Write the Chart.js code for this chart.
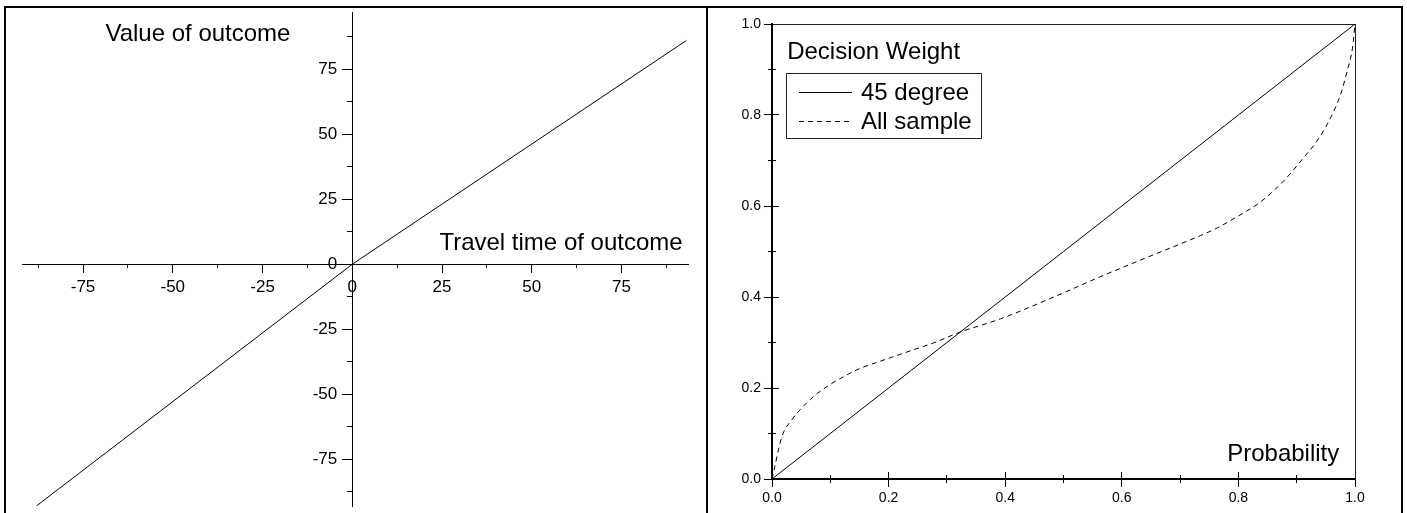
<!DOCTYPE html>
<html lang="en">
  <head>
    <meta charset="UTF-8" />
    <title>Value function and decision weights</title>
    <script src="https://cdn.jsdelivr.net/npm/chart.js"></script>
    <style>
      body {
        margin: 0;
        width: 1407px;
        height: 513px;
        position: relative;
        overflow: hidden;
        background: #fff;
      }
      canvas {
        position: absolute;
        top: 0;
      }
      #value-chart {
        left: 0;
      }
      #weight-chart {
        left: 708px;
      }
      .frame {
        position: absolute;
        top: 6px;
        height: 520px;
        border-top: 2px solid #000;
        border-left: 2px solid #000;
      }
      #frame-left {
        left: 4px;
        width: 700px;
      }
      #frame-right {
        left: 706px;
        width: 693px;
        border-right: 2px solid #000;
      }
    </style>
  </head>
  <body>
    <div class="frame" id="frame-left"></div>
    <div class="frame" id="frame-right"></div>
    <canvas id="value-chart" width="706" height="513"></canvas>
    <canvas id="weight-chart" width="699" height="513"></canvas>
    <script>
      // value function: travel time of outcome -> value of outcome
      const travelTime = [-88, 0, 93];
      const outcomeValue = [-93, 0, 86];
      const valueTicks = [-75, -50, -25, 0, 25, 50, 75];
      const valueMinorTicks = [-87.5, -62.5, -37.5, -12.5, 12.5, 37.5, 62.5, 87.5];

      // probability weighting
      const diagonalP = [0, 1];
      const diagonalW = [0, 1];
      const sampleP = [
        0, 0.005, 0.011, 0.019, 0.034, 0.048, 0.071, 0.094, 0.123, 0.151, 0.186,
        0.22, 0.254, 0.277, 0.323, 0.392, 0.478, 0.564, 0.649, 0.735, 0.764,
        0.793, 0.838, 0.879, 0.913, 0.936, 0.959, 0.976, 0.987, 0.996, 1,
      ];
      const sampleW = [
        0, 0.028, 0.064, 0.1, 0.13, 0.152, 0.181, 0.203, 0.225, 0.243, 0.259,
        0.274, 0.289, 0.299, 0.323, 0.352, 0.397, 0.445, 0.49, 0.535, 0.552,
        0.573, 0.609, 0.657, 0.708, 0.745, 0.796, 0.848, 0.899, 0.95, 1,
      ];
      const probTicks = [0, 0.2, 0.4, 0.6, 0.8, 1];
      const probMinorTicks = [0.1, 0.3, 0.5, 0.7, 0.9];

      const FONT = '"Liberation Sans", Arial, sans-serif';
      Chart.defaults.font.family = FONT;
      Chart.defaults.color = "#000";

      const toPoints = (xs, ys) => xs.map((x, i) => ({ x, y: ys[i] }));

      // labels must not push the plot area around
      const noPadding = (scale) => {
        scale.paddingTop = scale.paddingBottom = 0;
        scale.paddingLeft = scale.paddingRight = 0;
      };

      // edge axes with a fixed thickness, so layout.padding fixes the plot area
      const fixedFit = (size) => (scale) => {
        noPadding(scale);
        if (scale.isHorizontal()) scale.height = size;
        else scale.width = size;
      };

      // one axis line / set of tick marks; several of these share a position
      function axisScale(at, min, max, values, tickLength, extra) {
        return Object.assign(
          {
            type: "linear",
            position: at,
            min,
            max,
            afterBuildTicks: (scale) => {
              scale.ticks = values.map((v) => ({ value: v }));
            },
            afterFit: noPadding,
            border: { display: false },
            grid: {
              drawOnChartArea: false,
              tickLength,
              tickWidth: 1,
              tickColor: "#000",
            },
            ticks: { display: false },
          },
          extra
        );
      }

      // free text placed in data coordinates
      const captions = {
        id: "captions",
        afterDraw(chart, args, opts) {
          const { ctx } = chart;
          const x = chart.scales[opts.xAxis];
          const y = chart.scales[opts.yAxis];
          ctx.save();
          ctx.fillStyle = "#000";
          ctx.textBaseline = "alphabetic";
          ctx.font = `${opts.size}px ${FONT}`;
          for (const c of opts.items) {
            ctx.textAlign = c.align;
            ctx.fillText(c.text, x.getPixelForValue(c.x), y.getPixelForValue(c.y));
          }
          ctx.restore();
        },
      };

      // boxed legend drawn from the dataset styles
      const boxLegend = {
        id: "boxLegend",
        afterDraw(chart, args, opts) {
          const { ctx, chartArea } = chart;
          const left = chartArea.left + opts.left;
          const top = chartArea.top + opts.top;
          ctx.save();
          ctx.strokeStyle = "#222";
          ctx.lineWidth = 1;
          ctx.strokeRect(left + 0.5, top + 0.5, opts.width, opts.height);
          ctx.font = `${opts.size}px ${FONT}`;
          ctx.textBaseline = "middle";
          ctx.textAlign = "left";
          chart.data.datasets.forEach((ds, i) => {
            const rowY = Math.round(top + opts.firstRow + i * opts.rowGap) + 0.5;
            ctx.beginPath();
            ctx.setLineDash(ds.borderDash || []);
            ctx.strokeStyle = ds.borderColor;
            ctx.lineWidth = ds.borderWidth;
            ctx.moveTo(left + opts.lineStart, rowY);
            ctx.lineTo(left + opts.lineEnd, rowY);
            ctx.stroke();
            ctx.setLineDash([]);
            ctx.fillStyle = "#000";
            ctx.fillText(ds.label, left + opts.textStart, rowY + 1);
          });
          ctx.restore();
        },
      };

      new Chart(document.getElementById("value-chart"), {
        type: "scatter",
        data: {
          datasets: [
            {
              label: "Value",
              data: toPoints(travelTime, outcomeValue),
              showLine: true,
              borderColor: "#000",
              borderWidth: 1,
              pointRadius: 0,
            },
          ],
        },
        plugins: [captions],
        options: {
          responsive: false,
          animation: false,
          layout: { padding: { left: 22, right: 18, top: 12, bottom: 7 } },
          plugins: {
            legend: { display: false },
            tooltip: { enabled: false },
            captions: {
              xAxis: "x",
              yAxis: "y",
              size: 24,
              items: [
                { text: "Value of outcome", x: -43, y: 86, align: "center" },
                { text: "Travel time of outcome", x: 92, y: 5.5, align: "right" },
              ],
            },
          },
          scales: {
            x: axisScale({ y: 0 }, -92, 93.5, valueTicks, 8, {
              border: { display: true, color: "#000", width: 1 },
              ticks: { display: true, padding: 5, font: { size: 17 } },
            }),
            xMinor: axisScale({ y: 0 }, -92, 93.5, valueMinorTicks, 4),
            y: axisScale({ x: 0 }, -93, 97, valueTicks, 10, {
              border: { display: true, color: "#000", width: 1 },
            }),
            yMinor: axisScale({ x: 0 }, -93, 97, valueMinorTicks, 5),
            // value labels, set just left of the vertical axis and its ticks
            yLabels: axisScale({ x: -4.2 }, -93, 97, valueTicks, 0, {
              grid: { drawOnChartArea: false, drawTicks: false },
              ticks: { display: true, font: { size: 17 } },
            }),
          },
        },
      });

      const probLabel = (v) => v.toFixed(1);

      new Chart(document.getElementById("weight-chart"), {
        type: "scatter",
        data: {
          datasets: [
            {
              label: "45 degree",
              data: toPoints(diagonalP, diagonalW),
              showLine: true,
              borderColor: "#000",
              borderWidth: 1,
              pointRadius: 0,
            },
            {
              label: "All sample",
              data: toPoints(sampleP, sampleW),
              showLine: true,
              borderColor: "#000",
              borderWidth: 1,
              borderDash: [5, 4],
              cubicInterpolationMode: "monotone",
              pointRadius: 0,
            },
          ],
        },
        plugins: [captions, boxLegend],
        options: {
          responsive: false,
          animation: false,
          // left and bottom axes take 40 / 30 px of this
          layout: { padding: { left: 24, right: 52, top: 24, bottom: 4 } },
          plugins: {
            legend: { display: false },
            tooltip: { enabled: false },
            captions: {
              xAxis: "x",
              yAxis: "y",
              size: 24,
              items: [
                { text: "Decision Weight", x: 0.026, y: 0.922, align: "left" },
                { text: "Probability", x: 0.973, y: 0.04, align: "right" },
              ],
            },
            boxLegend: {
              size: 24,
              left: 14,
              top: 49,
              width: 195,
              height: 65,
              firstRow: 19,
              rowGap: 29,
              lineStart: 13,
              lineEnd: 66,
              textStart: 75,
            },
          },
          scales: {
            x: axisScale("bottom", 0, 1, probTicks, 8, {
              afterFit: fixedFit(30),
              border: { display: true, color: "#000", width: 2 },
              ticks: { display: true, padding: 3, font: { size: 14 }, callback: probLabel },
            }),
            xIn: axisScale({ y: 0 }, 0, 1, probTicks, -7),
            xMinor: axisScale({ y: 0 }, 0, 1, probMinorTicks, 4),
            xMinorIn: axisScale({ y: 0 }, 0, 1, probMinorTicks, -4),
            xTop: axisScale({ y: 1 }, 0, 1, [], 0, {
              border: { display: true, color: "#222", width: 1 },
            }),
            y: axisScale("left", 0, 1, probTicks, 8, {
              afterFit: fixedFit(40),
              border: { display: true, color: "#000", width: 2 },
              ticks: { display: true, padding: 3, font: { size: 14 }, callback: probLabel },
            }),
            yIn: axisScale({ x: 0 }, 0, 1, probTicks, -7),
            yMinor: axisScale({ x: 0 }, 0, 1, probMinorTicks, 4),
            yMinorIn: axisScale({ x: 0 }, 0, 1, probMinorTicks, -4),
            yRight: axisScale({ x: 1 }, 0, 1, [], 0, {
              border: { display: true, color: "#222", width: 1 },
            }),
          },
        },
      });
    </script>
  </body>
</html>
